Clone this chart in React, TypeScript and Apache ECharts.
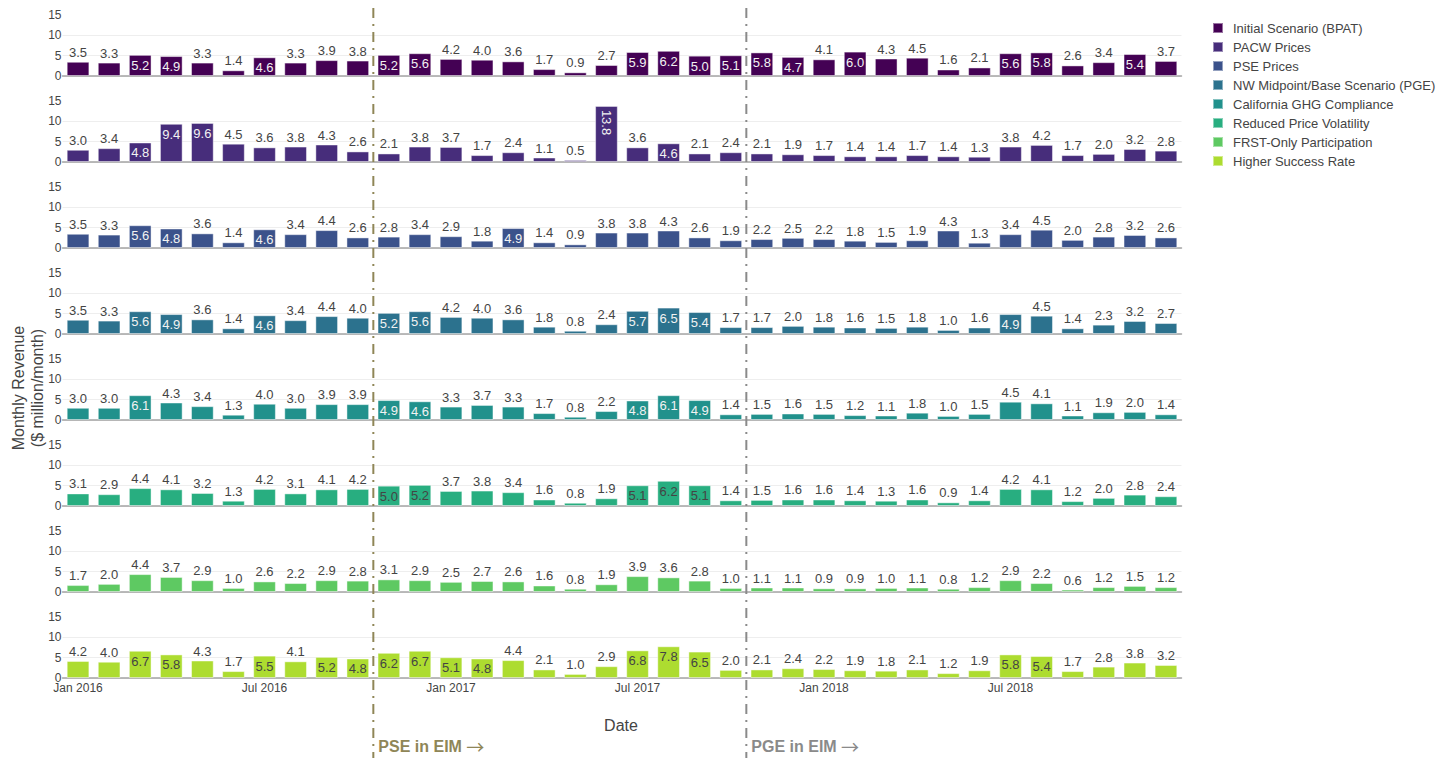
import React, { useEffect, useRef } from 'react';
import * as echarts from 'echarts';

const months = [
  'Jan 2016', 'Feb 2016', 'Mar 2016', 'Apr 2016', 'May 2016', 'Jun 2016',
  'Jul 2016', 'Aug 2016', 'Sep 2016', 'Oct 2016', 'Nov 2016', 'Dec 2016',
  'Jan 2017', 'Feb 2017', 'Mar 2017', 'Apr 2017', 'May 2017', 'Jun 2017',
  'Jul 2017', 'Aug 2017', 'Sep 2017', 'Oct 2017', 'Nov 2017', 'Dec 2017',
  'Jan 2018', 'Feb 2018', 'Mar 2018', 'Apr 2018', 'May 2018', 'Jun 2018',
  'Jul 2018', 'Aug 2018', 'Sep 2018', 'Oct 2018', 'Nov 2018', 'Dec 2018',
];

const scenarioNames = [
  'Initial Scenario (BPAT)',
  'PACW Prices',
  'PSE Prices',
  'NW Midpoint/Base Scenario (PGE)',
  'California GHG Compliance',
  'Reduced Price Volatility',
  'FRST-Only Participation',
  'Higher Success Rate',
];

const initialBPAT = [3.5, 3.3, 5.2, 4.9, 3.3, 1.4, 4.6, 3.3, 3.9, 3.8, 5.2, 5.6, 4.2, 4.0, 3.6, 1.7, 0.9, 2.7, 5.9, 6.2, 5.0, 5.1, 5.8, 4.7, 4.1, 6.0, 4.3, 4.5, 1.6, 2.1, 5.6, 5.8, 2.6, 3.4, 5.4, 3.7];
const pacwPrices = [3.0, 3.4, 4.8, 9.4, 9.6, 4.5, 3.6, 3.8, 4.3, 2.6, 2.1, 3.8, 3.7, 1.7, 2.4, 1.1, 0.5, 13.8, 3.6, 4.6, 2.1, 2.4, 2.1, 1.9, 1.7, 1.4, 1.4, 1.7, 1.4, 1.3, 3.8, 4.2, 1.7, 2.0, 3.2, 2.8];
const psePrices = [3.5, 3.3, 5.6, 4.8, 3.6, 1.4, 4.6, 3.4, 4.4, 2.6, 2.8, 3.4, 2.9, 1.8, 4.9, 1.4, 0.9, 3.8, 3.8, 4.3, 2.6, 1.9, 2.2, 2.5, 2.2, 1.8, 1.5, 1.9, 4.3, 1.3, 3.4, 4.5, 2.0, 2.8, 3.2, 2.6];
const nwMidpoint = [3.5, 3.3, 5.6, 4.9, 3.6, 1.4, 4.6, 3.4, 4.4, 4.0, 5.2, 5.6, 4.2, 4.0, 3.6, 1.8, 0.8, 2.4, 5.7, 6.5, 5.4, 1.7, 1.7, 2.0, 1.8, 1.6, 1.5, 1.8, 1.0, 1.6, 4.9, 4.5, 1.4, 2.3, 3.2, 2.7];
const californiaGHG = [3.0, 3.0, 6.1, 4.3, 3.4, 1.3, 4.0, 3.0, 3.9, 3.9, 4.9, 4.6, 3.3, 3.7, 3.3, 1.7, 0.8, 2.2, 4.8, 6.1, 4.9, 1.4, 1.5, 1.6, 1.5, 1.2, 1.1, 1.8, 1.0, 1.5, 4.5, 4.1, 1.1, 1.9, 2.0, 1.4];
const reducedVolatility = [3.1, 2.9, 4.4, 4.1, 3.2, 1.3, 4.2, 3.1, 4.1, 4.2, 5.0, 5.2, 3.7, 3.8, 3.4, 1.6, 0.8, 1.9, 5.1, 6.2, 5.1, 1.4, 1.5, 1.6, 1.6, 1.4, 1.3, 1.6, 0.9, 1.4, 4.2, 4.1, 1.2, 2.0, 2.8, 2.4];
const frstOnly = [1.7, 2.0, 4.4, 3.7, 2.9, 1.0, 2.6, 2.2, 2.9, 2.8, 3.1, 2.9, 2.5, 2.7, 2.6, 1.6, 0.8, 1.9, 3.9, 3.6, 2.8, 1.0, 1.1, 1.1, 0.9, 0.9, 1.0, 1.1, 0.8, 1.2, 2.9, 2.2, 0.6, 1.2, 1.5, 1.2];
const higherSuccess = [4.2, 4.0, 6.7, 5.8, 4.3, 1.7, 5.5, 4.1, 5.2, 4.8, 6.2, 6.7, 5.1, 4.8, 4.4, 2.1, 1.0, 2.9, 6.8, 7.8, 6.5, 2.0, 2.1, 2.4, 2.2, 1.9, 1.8, 2.1, 1.2, 1.9, 5.8, 5.4, 1.7, 2.8, 3.8, 3.2];

const seriesValues = [initialBPAT, pacwPrices, psePrices, nwMidpoint, californiaGHG, reducedVolatility, frstOnly, higherSuccess];

const yTicks = { min: 0, max: 15, interval: 5 };

const events = [
  { before: 'Oct 2016', after: 'Nov 2016', text: 'PSE in EIM', color: '#8f8657' },
  { before: 'Oct 2017', after: 'Nov 2017', text: 'PGE in EIM', color: '#8a8a8a' },
];

const colors = ['#440154', '#472d7b', '#3b528b', '#2c728e', '#21918c', '#28ae80', '#5ec962', '#addc30'];
const insideTextColors = ['#f2f2f2', '#f2f2f2', '#f2f2f2', '#f2f2f2', '#f2f2f2', '#444444', '#444444', '#444444'];

const FONT = "'Liberation Sans', Arial, sans-serif";
const TEXT = '#444444';

export default function App() {
  const ref = useRef<HTMLDivElement>(null);

  useEffect(() => {
    if (!ref.current) return;
    const chart = echarts.init(ref.current, undefined, { renderer: 'svg' });

    const n = scenarioNames.length;
    const grids: any[] = [];
    const xAxes: any[] = [];
    const yAxes: any[] = [];
    const series: any[] = [];

    for (let i = 0; i < n; i++) {
      grids.push({ left: 62.5, width: 1119, top: 15 + 86 * i, height: 61 });
      xAxes.push({
        type: 'category',
        gridIndex: i,
        data: months,
        boundaryGap: true,
        axisLine: { show: true, lineStyle: { color: '#a4a4a4', width: 1.5 } },
        axisTick: { show: false },
        axisLabel: {
          show: i === n - 1,
          interval: 5,
          fontSize: 12,
          color: TEXT,
          fontFamily: FONT,
          margin: 4,
        },
        splitLine: { show: false },
      });
      yAxes.push({
        type: 'value',
        gridIndex: i,
        min: yTicks.min,
        max: yTicks.max,
        interval: yTicks.interval,
        axisLine: { show: false },
        axisTick: { show: false },
        axisLabel: { fontSize: 12, color: TEXT, fontFamily: FONT, margin: 1 },
        splitLine: { show: true, showMaxLine: false, lineStyle: { color: '#eeeeee', width: 1 } },
      });
      const vals = seriesValues[i];
      series.push({
        type: 'bar',
        name: scenarioNames[i],
        xAxisIndex: i,
        yAxisIndex: i,
        barCategoryGap: '27%',
        itemStyle: { color: colors[i], borderColor: 'rgba(255,255,255,0.45)', borderWidth: 1 },
        data: vals.map((v) => {
          let label: any;
          if (v >= 10) {
            label = {
              show: true,
              position: 'insideTop',
              rotate: -90,
              align: 'left',
              verticalAlign: 'middle',
              distance: 4,
              color: insideTextColors[i],
            };
          } else if (v > 4.5) {
            label = { show: true, position: 'insideTop', distance: 4, color: insideTextColors[i] };
          } else {
            label = { show: true, position: 'top', distance: 3, color: TEXT };
          }
          return { value: v, label };
        }),
        label: {
          show: true,
          fontSize: 13,
          fontFamily: FONT,
          formatter: (p: any) => Number(p.value).toFixed(1),
        },
      });
    }

    chart.setOption({
      animation: false,
      backgroundColor: '#ffffff',
      textStyle: { fontFamily: FONT },
      legend: {
        orient: 'vertical',
        left: 1207,
        top: 16,
        itemWidth: 10,
        itemHeight: 10,
        itemGap: 5,
        icon: 'rect',
        data: scenarioNames,
        selectedMode: false,
        textStyle: { fontSize: 13, color: TEXT, fontFamily: FONT, lineHeight: 14, padding: [0, 0, 0, 5] },
      },
      grid: grids,
      xAxis: xAxes,
      yAxis: yAxes,
      series,
    });

    const graphics: any[] = [];
    events.forEach((ev) => {
      const xa = chart.convertToPixel({ xAxisIndex: 0 }, ev.before) as number;
      const xb = chart.convertToPixel({ xAxisIndex: 0 }, ev.after) as number;
      const x = (xa + xb) / 2;
      graphics.push({
        type: 'line',
        z: 100,
        shape: { x1: x, y1: 8, x2: x, y2: 758 },
        style: { stroke: ev.color, lineWidth: 2, lineDash: [10, 6, 2, 6] },
      });
      graphics.push({
        type: 'text',
        z: 100,
        x: x + 5,
        y: 746,
        style: {
          text: `{b|${ev.text} }{a|\u2192}`,
          fill: ev.color,
          verticalAlign: 'middle',
          align: 'left',
          rich: {
            b: { fontFamily: FONT, fontSize: 16, fontWeight: 'bold', fill: ev.color, color: ev.color },
            a: { fontFamily: "'Noto Sans CJK JP', 'DejaVu Sans', sans-serif", fontSize: 18, fontWeight: 'normal', fill: ev.color, color: ev.color },
          },
        },
      });
    });
    graphics.push({
      type: 'text',
      x: 28,
      y: 388,
      rotation: Math.PI / 2,
      style: {
        text: 'Monthly Revenue\n($ million/month)',
        fill: TEXT,
        font: `16px ${FONT}`,
        lineHeight: 19,
        align: 'center',
        verticalAlign: 'middle',
      },
    });
    graphics.push({
      type: 'text',
      x: 621,
      y: 725,
      style: {
        text: 'Date',
        fill: TEXT,
        font: `16px ${FONT}`,
        align: 'center',
        verticalAlign: 'middle',
      },
    });
    chart.setOption({ graphic: graphics });

    return () => chart.dispose();
  }, []);

  return (
    <div
      ref={ref}
      style={{ position: 'absolute', left: 0, top: 0, width: 1437, height: 758 }}
    />
  );
}
